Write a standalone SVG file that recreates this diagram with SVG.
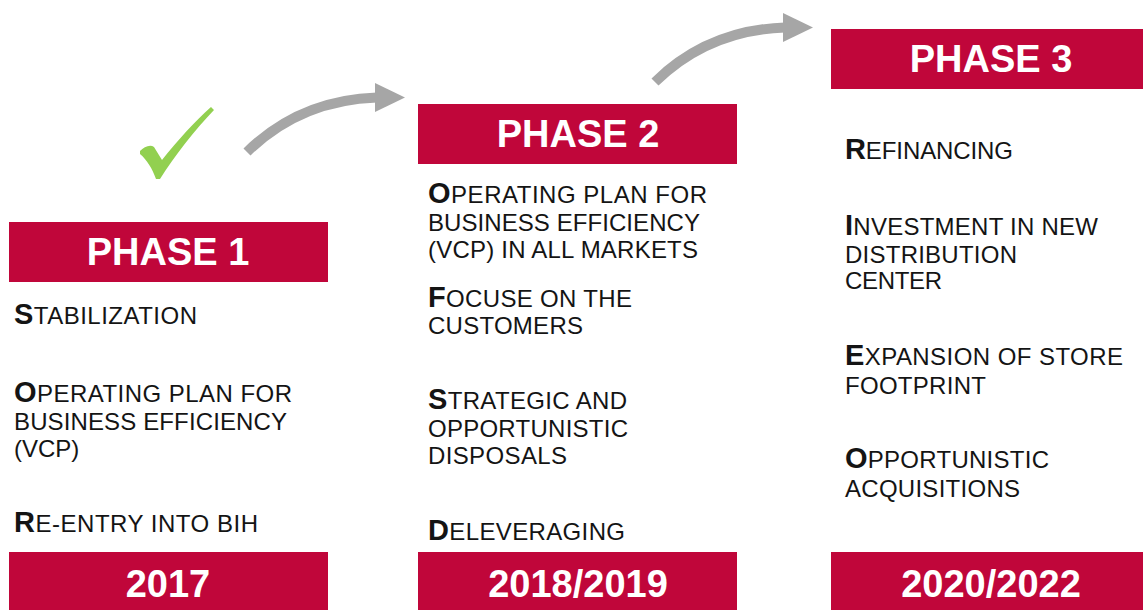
<svg xmlns="http://www.w3.org/2000/svg" xmlns:xlink="http://www.w3.org/1999/xlink" width="1143" height="610" viewBox="0 0 1143 610">
  <style>
    .bar { fill: #C0063A; }
    .head { font-family: "Liberation Sans", Arial, sans-serif; font-weight: bold; font-size: 38px; fill: #ffffff; text-anchor: middle; }
    .item { font-family: "Liberation Sans", Arial, sans-serif; font-size: 24px; fill: #141414; }
    .cap { font-weight: bold; font-size: 29px; }
    .shaft { fill: none; stroke: #A6A6A6; stroke-width: 10; }
    .tip { fill: #A6A6A6; }
  </style>
  <defs>
    <g id="curveArrow">
      <path class="shaft" d="M247,152 Q300,100 377,97.5"/>
      <polygon class="tip" points="375,83 405,97.5 375,112"/>
    </g>
  </defs>

  <rect width="1143" height="610" fill="#ffffff"/>

  <!-- connectors between phases -->
  <g id="connectors">
    <use xlink:href="#curveArrow"/>
    <use xlink:href="#curveArrow" transform="translate(408,-70)"/>
  </g>

  <!-- completed mark -->
  <g id="check">
    <path fill="#92D050" d="M140,151 C144,147 150,144 154,147 L162,160 C178,140 195,121 211,107 L214,110 C195,130 175,155 160,179 L156,179 C152,168 147,160 140,154 Z"/>
  </g>

  <!-- phase 1 -->
  <g id="phase1">
    <rect class="bar" x="9" y="222" width="319" height="60"/>
    <text class="head" x="168" y="265">PHASE 1</text>
    <text class="item" x="14" y="324" textLength="183" lengthAdjust="spacing"><tspan class="cap">S</tspan>TABILIZATION</text>
    <text class="item" x="14" y="402" textLength="278" lengthAdjust="spacing"><tspan class="cap">O</tspan>PERATING PLAN FOR</text>
    <text class="item" x="14" y="430" textLength="273" lengthAdjust="spacing">BUSINESS EFFICIENCY</text>
    <text class="item" x="14" y="457">(VCP)</text>
    <text class="item" x="14" y="532" textLength="244" lengthAdjust="spacing"><tspan class="cap">R</tspan>E-ENTRY INTO BIH</text>
    <rect class="bar" x="9" y="552" width="319" height="58"/>
    <text class="head" x="168" y="597">2017</text>
  </g>

  <!-- phase 2 -->
  <g id="phase2">
    <rect class="bar" x="418" y="104" width="319" height="60"/>
    <text class="head" x="578" y="147">PHASE 2</text>
    <text class="item" x="428" y="203" textLength="279" lengthAdjust="spacing"><tspan class="cap">O</tspan>PERATING PLAN FOR</text>
    <text class="item" x="428" y="231" textLength="272" lengthAdjust="spacing">BUSINESS EFFICIENCY</text>
    <text class="item" x="428" y="258" textLength="270" lengthAdjust="spacing">(VCP) IN ALL MARKETS</text>
    <text class="item" x="428" y="307" textLength="204" lengthAdjust="spacing"><tspan class="cap">F</tspan>OCUSE ON THE</text>
    <text class="item" x="428" y="334" textLength="155" lengthAdjust="spacing">CUSTOMERS</text>
    <text class="item" x="428" y="409" textLength="199" lengthAdjust="spacing"><tspan class="cap">S</tspan>TRATEGIC AND</text>
    <text class="item" x="428" y="437" textLength="200" lengthAdjust="spacing">OPPORTUNISTIC</text>
    <text class="item" x="428" y="464" textLength="139" lengthAdjust="spacing">DISPOSALS</text>
    <text class="item" x="428" y="540" textLength="197" lengthAdjust="spacing"><tspan class="cap">D</tspan>ELEVERAGING</text>
    <rect class="bar" x="418" y="552" width="319" height="58"/>
    <text class="head" x="578" y="597">2018/2019</text>
  </g>

  <!-- phase 3 -->
  <g id="phase3">
    <rect class="bar" x="831" y="29" width="312" height="60"/>
    <text class="head" x="991" y="72">PHASE 3</text>
    <text class="item" x="845" y="159" textLength="168" lengthAdjust="spacing"><tspan class="cap">R</tspan>EFINANCING</text>
    <text class="item" x="845" y="235" textLength="253" lengthAdjust="spacing"><tspan class="cap">I</tspan>NVESTMENT IN NEW</text>
    <text class="item" x="845" y="263" textLength="172" lengthAdjust="spacing">DISTRIBUTION</text>
    <text class="item" x="845" y="289" textLength="97" lengthAdjust="spacing">CENTER</text>
    <text class="item" x="845" y="365" textLength="278" lengthAdjust="spacing"><tspan class="cap">E</tspan>XPANSION OF STORE</text>
    <text class="item" x="845" y="394" textLength="141" lengthAdjust="spacing">FOOTPRINT</text>
    <text class="item" x="845" y="468" textLength="204" lengthAdjust="spacing"><tspan class="cap">O</tspan>PPORTUNISTIC</text>
    <text class="item" x="845" y="497" textLength="175" lengthAdjust="spacing">ACQUISITIONS</text>
    <rect class="bar" x="831" y="552" width="312" height="58"/>
    <text class="head" x="991" y="597">2020/2022</text>
  </g>
</svg>
